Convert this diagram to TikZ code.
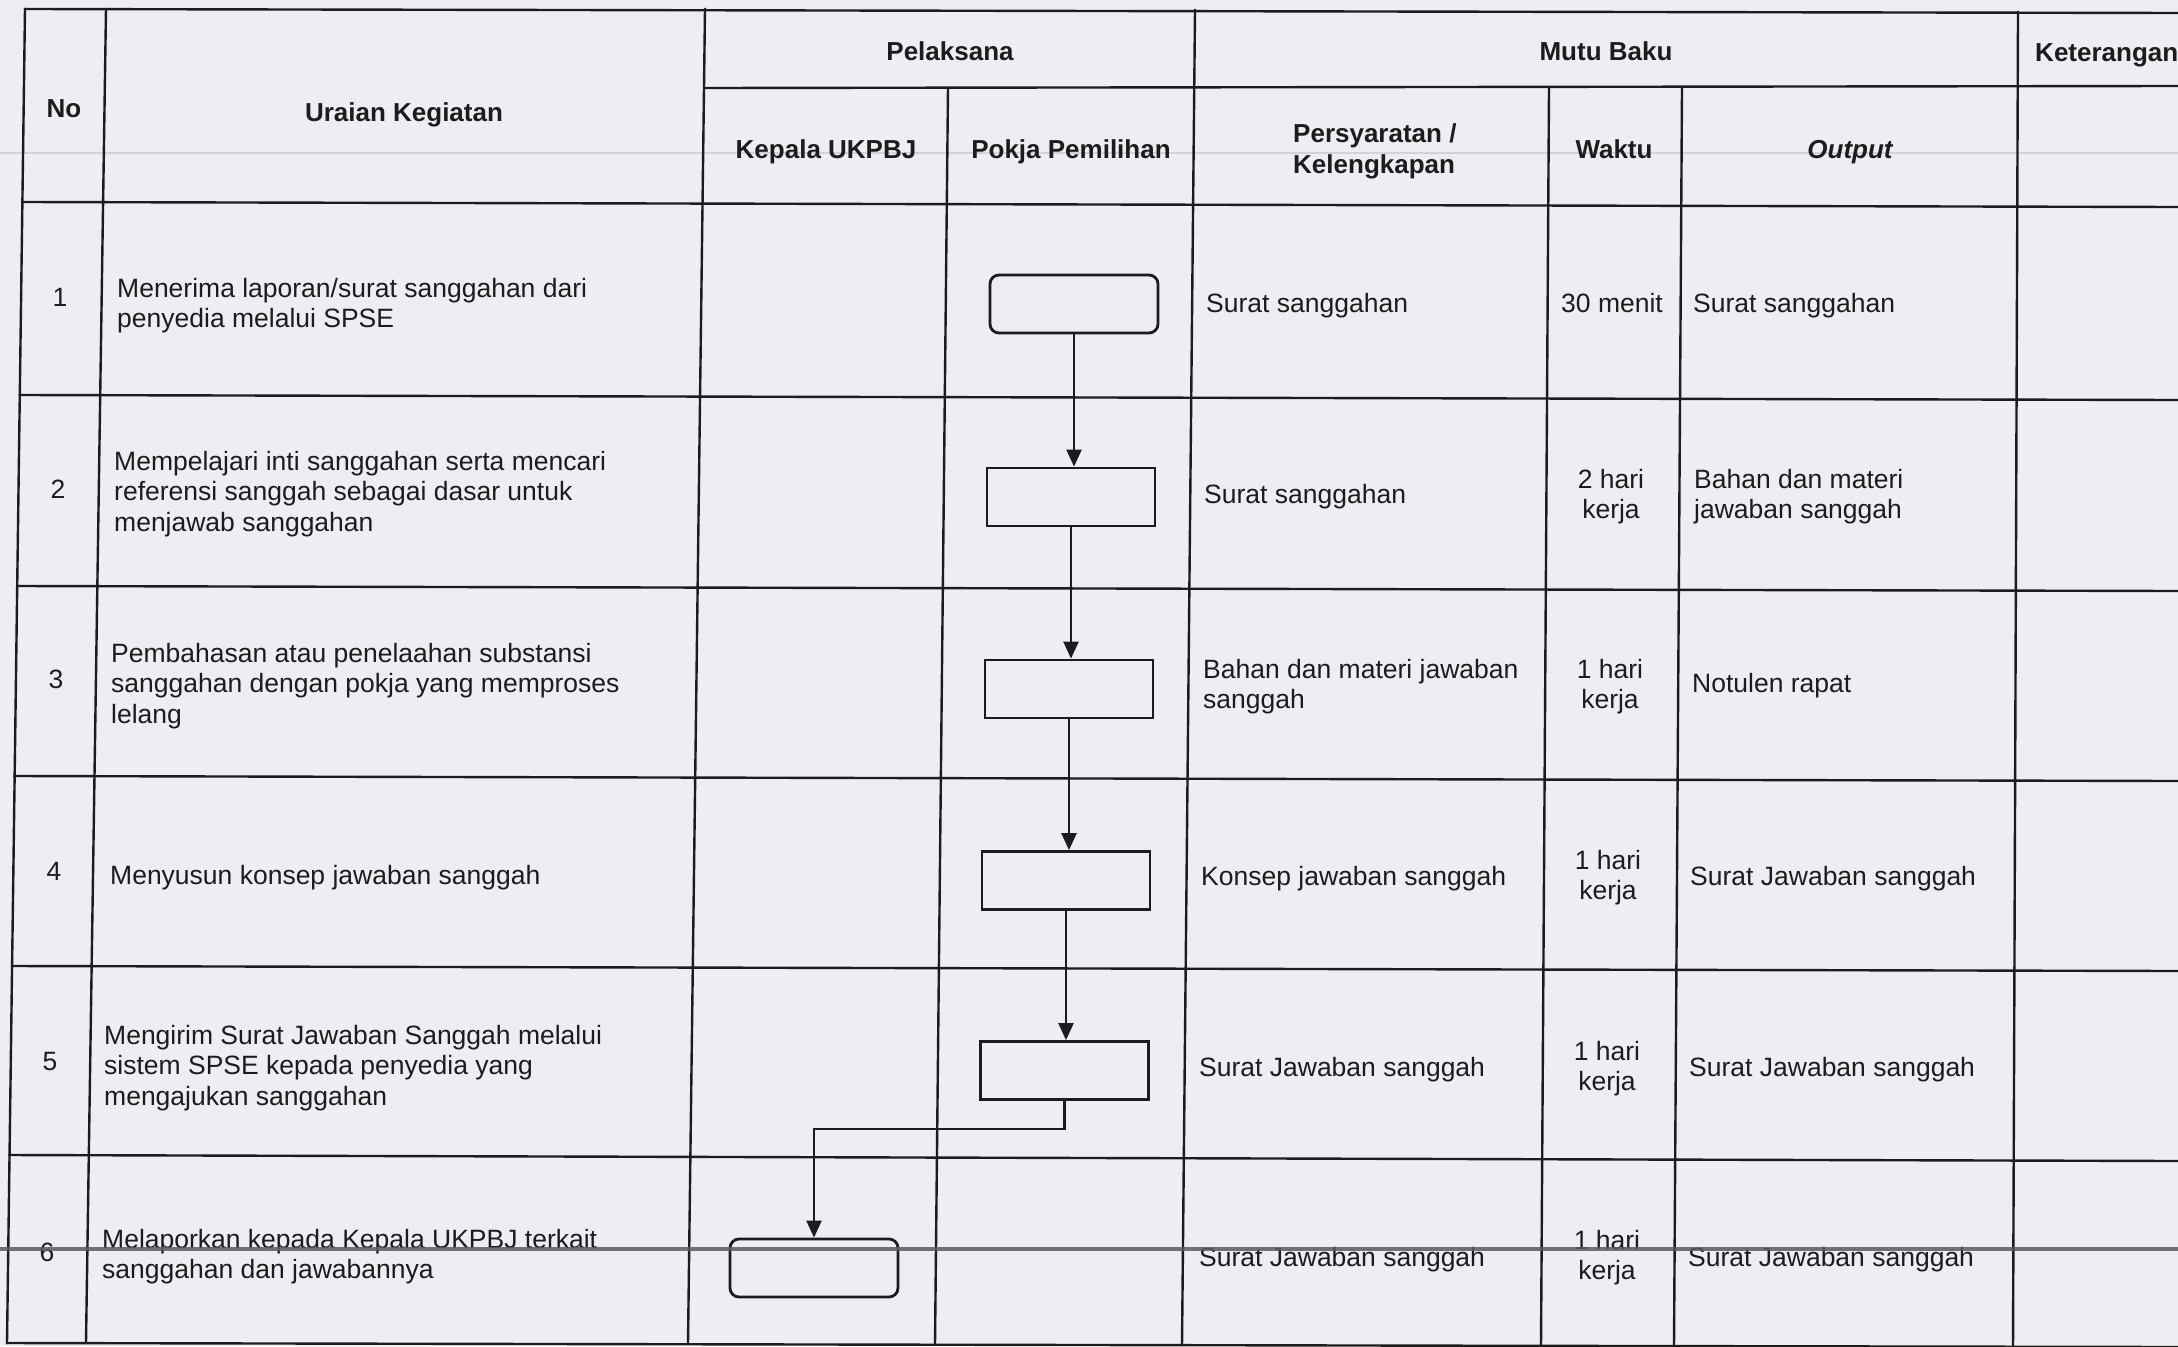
\documentclass[tikz,border=0pt]{standalone}
\usepackage{fontspec}
\setmainfont{Liberation Sans}
\usetikzlibrary{arrows.meta}
\definecolor{paper}{HTML}{EEEEF2}
\definecolor{ink}{HTML}{1C1C1E}
\definecolor{scanline}{HTML}{5A5A60}
\definecolor{faintline}{HTML}{D2D2D8}
\begin{document}
\begin{tikzpicture}[x=1pt,y=-1pt,
  grid/.style={draw=ink, line width=2.4pt, line cap=rect},
  hd/.style={font=\fontsize{26}{30}\selectfont\bfseries, text=ink, inner sep=0pt, anchor=base},
  bd/.style={font=\fontsize{26.5}{30.5}\selectfont, text=ink, inner sep=0pt, anchor=base west},
  wk/.style={font=\fontsize{26.5}{30.5}\selectfont, text=ink, inner sep=0pt, anchor=base},
  sbox/.style={draw=ink, line width=2.8pt, minimum width=168pt, minimum height=58pt, inner sep=0pt},
  rbox/.style={sbox, rounded corners=9pt},
  flow/.style={draw=ink, line width=2.4pt, -{Triangle[width=15pt,length=17pt]}}
]
\useasboundingbox (0,0) rectangle (2178,1346);
\fill[paper] (0,0) rectangle (2178,1346);
% scan artefacts
\draw[faintline, line width=2.5pt] (0,153) -- (2178,153);

% table: vertical lines
\draw[grid] (25,9) -- (7,1343);
\draw[grid] (106,9) -- (86,1343);
\draw[grid] (705,9) -- (688,1343);
\draw[grid] (948,88) -- (935,1344);
\draw[grid] (1195,10) -- (1182,1345);
\draw[grid] (1549,88) -- (1541,1345);
\draw[grid] (1682,88) -- (1674,1345);
\draw[grid] (2018,12) -- (2013,1346);
% table: horizontal lines
\draw[grid] (25,9) -- (2178,13);
\draw[grid] (705,88) -- (2178,86);
\draw[grid] (22.4,202) -- (2178,207);
\draw[grid] (19.8,395) -- (2178,400);
\draw[grid] (17.2,586) -- (2178,591);
\draw[grid] (14.7,776) -- (2178,781);
\draw[grid] (12.1,966) -- (2178,971);
\draw[grid] (9.5,1155) -- (2178,1161);
\draw[grid] (7,1343) -- (2178,1347);

% header
\node[hd] (hno) at (64,117) {No};
\node[hd] (hur) at (404,121) {Uraian Kegiatan};
\node[hd] (hpl) at (950,61) {Pelaksana};
\node[hd] (hmb) at (1606,61) {Mutu Baku};
\node[hd, anchor=base west] (hket) at (2035,62) {Keterangan};
\node[hd] (hkp) at (826,158) {Kepala UKPBJ};
\node[hd] (hpk) at (1071,158) {Pokja Pemilihan};
\node[hd, anchor=base west] (hps1) at (1293,142) {Persyaratan /};
\node[hd, anchor=base west] (hps2) at (1293,173) {Kelengkapan};
\node[hd] (hwk) at (1614,158) {Waktu};
\node[hd, font=\fontsize{26}{30}\selectfont\bfseries\itshape] (hout) at (1850,158) {Output};

% numbers
\node[wk] (n1) at (60,306.5) {1};
\node[wk] (n2) at (58,498) {2};
\node[wk] (n3) at (56,688) {3};
\node[wk] (n4) at (54,880) {4};
\node[wk] (n5) at (50,1070) {5};
\node[wk] (n6) at (47,1261) {6};

% uraian kegiatan
\node[bd] (u1a) at (117,297) {Menerima laporan/surat sanggahan dari};
\node[bd] (u1b) at (117,327.5) {penyedia melalui SPSE};
\node[bd] (u2a) at (114,470) {Mempelajari inti sanggahan serta mencari};
\node[bd] (u2b) at (114,500.5) {referensi sanggah sebagai dasar untuk};
\node[bd] (u2c) at (114,531) {menjawab sanggahan};
\node[bd] (u3a) at (111,662) {Pembahasan atau penelaahan substansi};
\node[bd] (u3b) at (111,692.5) {sanggahan dengan pokja yang memproses};
\node[bd] (u3c) at (111,723) {lelang};
\node[bd] (u4a) at (110,884) {Menyusun konsep jawaban sanggah};
\node[bd] (u5a) at (104,1044) {Mengirim Surat Jawaban Sanggah melalui};
\node[bd] (u5b) at (104,1074.5) {sistem SPSE kepada penyedia yang};
\node[bd] (u5c) at (104,1105) {mengajukan sanggahan};
\node[bd] (u6a) at (102,1248) {Melaporkan kepada Kepala UKPBJ terkait};
\node[bd] (u6b) at (102,1278.5) {sanggahan dan jawabannya};

% persyaratan / kelengkapan
\node[bd] (p1) at (1206,312) {Surat sanggahan};
\node[bd] (p2) at (1204,503) {Surat sanggahan};
\node[bd] (p3a) at (1203,678) {Bahan dan materi jawaban};
\node[bd] (p3b) at (1203,708.5) {sanggah};
\node[bd] (p4) at (1201,885) {Konsep jawaban sanggah};
\node[bd] (p5) at (1199,1076) {Surat Jawaban sanggah};
\node[bd] (p6) at (1199,1266) {Surat Jawaban sanggah};

% waktu
\node[bd] (w1) at (1561,312) {30 menit};
\node[wk] (w2a) at (1611,488) {2 hari};
\node[wk] (w2b) at (1611,518.5) {kerja};
\node[wk] (w3a) at (1610,678) {1 hari};
\node[wk] (w3b) at (1610,708.5) {kerja};
\node[wk] (w4a) at (1608,869) {1 hari};
\node[wk] (w4b) at (1608,899.5) {kerja};
\node[wk] (w5a) at (1607,1060) {1 hari};
\node[wk] (w5b) at (1607,1090.5) {kerja};
\node[wk] (w6a) at (1607,1249) {1 hari};
\node[wk] (w6b) at (1607,1279.5) {kerja};

% output
\node[bd] (o1) at (1693,312) {Surat sanggahan};
\node[bd] (o2a) at (1694,488) {Bahan dan materi};
\node[bd] (o2b) at (1694,518.5) {jawaban sanggah};
\node[bd] (o3) at (1692,692) {Notulen rapat};
\node[bd] (o4) at (1690,885) {Surat Jawaban sanggah};
\node[bd] (o5) at (1689,1076) {Surat Jawaban sanggah};
\node[bd] (o6) at (1688,1266) {Surat Jawaban sanggah};

% flow boxes
\node[rbox] (b1) at (1074,304) {};
\node[sbox] (b2) at (1071,497) {};
\node[sbox] (b3) at (1069,689) {};
\node[sbox] (b4) at (1066,880.5) {};
\node[sbox] (b5) at (1064.5,1070.5) {};
\node[rbox] (b6) at (814,1268) {};

% connectors
\draw[flow] (b1.south) -- (b1.south |- b2.north);
\draw[flow] (b2.south) -- (b2.south |- b3.north);
\draw[flow] (b3.south) -- (b3.south |- b4.north);
\draw[flow] (b4.south) -- (b4.south |- b5.north);
\path (b5.south) ++(0,28) coordinate (bend);
\draw[flow] (b5.south) -- (bend) -| (b6.north);

% dark scan line across the page
\draw[scanline, line width=4.5pt, opacity=0.85] (0,1249) -- (2178,1249);
\end{tikzpicture}
\end{document}
